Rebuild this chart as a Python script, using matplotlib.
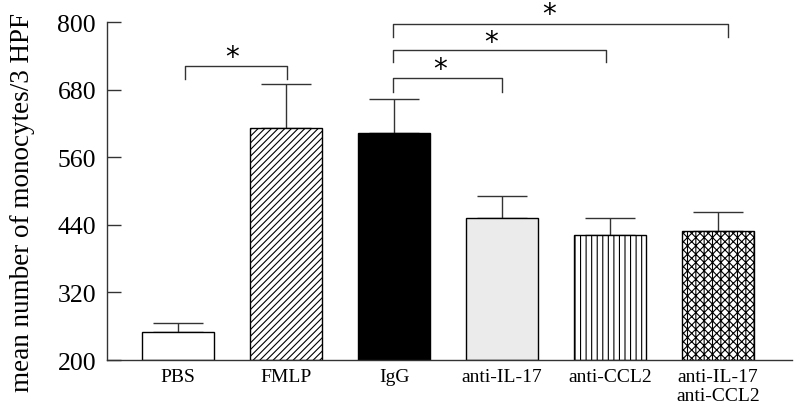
import numpy as np
import matplotlib
matplotlib.use("Agg")
from matplotlib import pyplot as plt

groups = ["PBS", "FMLP", "IgG", "anti-IL-17", "anti-CCL2", "anti-IL-17\nanti-CCL2"]
means = [250, 612, 604, 452, 422, 430]
errs = [16, 78, 60, 39, 31, 32]
fills = ["white", "white", "black", "#ebebeb", "white", "white"]
hatches = [None, "/////", None, None, "|||", "xxxx||"]

plt.rcParams['font.family'] = ['Liberation Serif', 'DejaVu Serif']
plt.rcParams['hatch.linewidth'] = 0.8

fig = plt.figure(figsize=(8, 4.14), dpi=100)
ax = fig.add_axes([0.134, 0.128, 0.856, 0.816])

x = np.arange(len(groups))
for i in range(len(groups)):
    ax.bar(x[i], means[i] - 200, bottom=200, width=0.667, color=fills[i],
           edgecolor="black", linewidth=1.0, hatch=hatches[i], zorder=2)
ax.errorbar(x, means, yerr=[np.zeros(len(errs)), errs], fmt="none",
            ecolor="#333333", elinewidth=1.0, capsize=18, capthick=1.0, zorder=1)

ax.set_xlim(-0.657, 5.685)
ax.set_ylim(200, 800)
ax.set_yticks(np.arange(200, 801, 120))
ax.tick_params(axis="y", direction="in", length=10, width=1, labelsize=18.5, pad=8, color="#333333")
ax.tick_params(axis="x", length=0, labelsize=14, pad=6)
ax.set_xticks(x)
ax.set_xticklabels(groups, linespacing=1.1)
# y label placed by hand so it spans the same height as the original
fig.text(0.028, 0.512, "mean number of monocytes/3 HPF", rotation=90,
         ha="center", va="center", fontsize=19.5)

for s in ["top", "right"]:
    ax.spines[s].set_visible(False)
for s in ["left", "bottom"]:
    ax.spines[s].set_color("#333333")
    ax.spines[s].set_linewidth(1.0)

# significance brackets: (x1, x2, y, left drop, right drop, star x, star y)
brackets = [
    (0.065, 1.006, 722, 699, 699, 0.5, 738),
    (1.99, 2.997, 700, 676, 676, 2.43, 716),
    (1.99, 3.96, 750, 729, 729, 2.9, 765),
    (1.99, 5.09, 796, 773, 773, 3.44, 814),
]
for x1, x2, y, yl, yr, sx, sy in brackets:
    ax.plot([x1, x1, x2, x2], [yl, y, y, yr], color="#333333", lw=1.0, clip_on=False)
    ax.text(sx, sy, "*", ha="center", va="center", fontsize=20, fontfamily="DejaVu Sans")

fig.savefig("out.png", dpi=100)
